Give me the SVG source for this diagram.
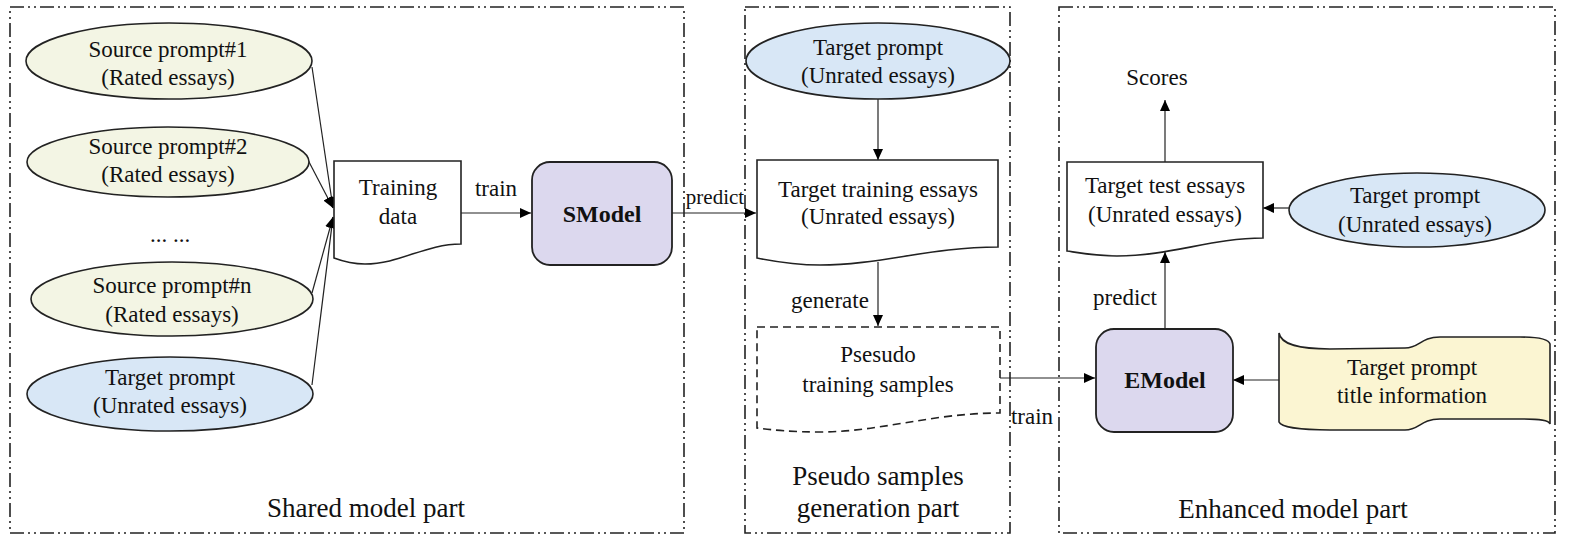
<svg xmlns="http://www.w3.org/2000/svg" width="1577" height="544" viewBox="0 0 1577 544" font-family="Liberation Serif, serif">
<defs>
<marker id="ah" markerUnits="userSpaceOnUse" markerWidth="12" markerHeight="10" refX="11" refY="5" orient="auto">
<path d="M0,0 L11,5 L0,10 Z" fill="#000"/>
</marker>
<style>
.frame{fill:none;stroke:#222;stroke-width:1.6;stroke-dasharray:14 4 2 4 2 4}
.t{font-family:Liberation Serif,serif;font-size:23px;fill:#111;text-anchor:middle}
.big{font-size:27px}
.b{font-weight:bold;font-size:24px}
.src{fill:#f3f5e4;stroke:#222;stroke-width:1.6}
.tgt{fill:#d8e7f6;stroke:#222;stroke-width:1.6}
.doc{fill:#fff;stroke:#222;stroke-width:1.6}
.model{fill:#dcd8ee;stroke:#222;stroke-width:1.8}
.edge{fill:none;stroke:#222;stroke-width:1.2;marker-end:url(#ah)}
</style>
</defs>
<rect width="1577" height="544" fill="#fff"/>
<g id="frames">
<rect class="frame" x="10" y="7" width="674" height="526"/>
<rect class="frame" x="745" y="7" width="265" height="526"/>
<rect class="frame" x="1059" y="7" width="496" height="526"/>
<text class="t big" x="366" y="517">Shared model part</text>
<text class="t big" x="878" y="485">Pseudo samples</text>
<text class="t big" x="878" y="517">generation part</text>
<text class="t big" x="1293" y="518">Enhanced model part</text>
</g>
<g id="connectors">
<line class="edge" x1="312" y1="67" x2="333" y2="208"/>
<line class="edge" x1="308" y1="160" x2="333" y2="208"/>
<line class="edge" x1="312" y1="293" x2="333" y2="217"/>
<line class="edge" x1="312" y1="385" x2="333" y2="217"/>
<line class="edge" x1="461" y1="213" x2="531" y2="213"/>
<text class="t" x="496" y="196">train</text>
<line class="edge" x1="672" y1="213" x2="756" y2="213"/>
<text class="t" x="715" y="204" style="font-size:21px">predict</text>
<line class="edge" x1="878" y1="99" x2="878" y2="160"/>
<line class="edge" x1="878" y1="262" x2="878" y2="326"/>
<text class="t" x="830" y="308">generate</text>
<line class="edge" x1="1000" y1="378" x2="1095" y2="378"/>
<text class="t" x="1032" y="424">train</text>
<line class="edge" x1="1165" y1="162" x2="1165" y2="100"/>
<line class="edge" x1="1289" y1="208" x2="1263" y2="208"/>
<line class="edge" x1="1165" y1="329" x2="1165" y2="252"/>
<text class="t" x="1125" y="305">predict</text>
<line class="edge" x1="1279" y1="380" x2="1233" y2="380"/>
</g>
<g id="src1">
<ellipse class="src" cx="169" cy="61" rx="143" ry="38"/>
<text class="t" x="168" y="57">Source prompt#1</text>
<text class="t" x="168" y="85">(Rated essays)</text>
</g>
<g id="src2">
<ellipse class="src" cx="168" cy="162" rx="141" ry="35"/>
<text class="t" x="168" y="154">Source prompt#2</text>
<text class="t" x="168" y="182">(Rated essays)</text>
</g>
<g id="dots">
<text class="t" x="170" y="242">... ...</text>
</g>
<g id="srcn">
<ellipse class="src" cx="172" cy="299" rx="141" ry="37"/>
<text class="t" x="172" y="293">Source prompt#n</text>
<text class="t" x="172" y="322">(Rated essays)</text>
</g>
<g id="tgt1">
<ellipse class="tgt" cx="170" cy="394" rx="143" ry="37"/>
<text class="t" x="170" y="385">Target prompt</text>
<text class="t" x="170" y="413">(Unrated essays)</text>
</g>
<g id="trainingdata">
<path class="doc" d="M334,161 H461 V244 C425,244 400,264 365,264 C352,264 342,261 334,258 Z"/>
<text class="t" x="398" y="195">Training</text>
<text class="t" x="398" y="224">data</text>
</g>
<g id="smodel">
<rect class="model" x="532" y="162" width="140" height="103" rx="18"/>
<text class="t b" x="602" y="222">SModel</text>
</g>
<g id="tgt2">
<ellipse class="tgt" cx="878" cy="61" rx="132" ry="38"/>
<text class="t" x="878" y="55">Target prompt</text>
<text class="t" x="878" y="83">(Unrated essays)</text>
</g>
<g id="targettraining">
<path class="doc" d="M757,160 H998 V247 C930,247 880,265 820,265 C792,265 772,261 757,258 Z"/>
<text class="t" x="878" y="197">Target training essays</text>
<text class="t" x="878" y="224">(Unrated essays)</text>
</g>
<g id="pseudo">
<path class="doc" style="stroke-dasharray:8 5" d="M757,327 H1000 V413 C932,413 880,432 820,432 C792,432 772,430 757,428 Z"/>
<text class="t" x="878" y="362">Psesudo</text>
<text class="t" x="878" y="392">training samples</text>
</g>
<g id="scores">
<text class="t" x="1157" y="85">Scores</text>
</g>
<g id="targettest">
<path class="doc" d="M1067,162 H1263 V238 C1212,238 1170,256 1117,256 C1095,256 1080,253 1067,251 Z"/>
<text class="t" x="1165" y="193">Target test essays</text>
<text class="t" x="1165" y="222">(Unrated essays)</text>
</g>
<g id="tgt3">
<ellipse class="tgt" cx="1417" cy="210" rx="128" ry="37"/>
<text class="t" x="1415" y="203">Target prompt</text>
<text class="t" x="1415" y="232">(Unrated essays)</text>
</g>
<g id="emodel">
<rect class="model" x="1096" y="329" width="137" height="103" rx="18"/>
<text class="t b" x="1165" y="388">EModel</text>
</g>
<g id="titleinfo">
<path d="M1279,333 C1281,345 1300,349 1330,349 L1405,348 C1420,348 1420,337 1440,337 L1520,337 C1540,337 1549,340 1550,344 V424 C1549,420 1540,419 1520,419 L1440,419 C1420,419 1420,430 1405,430 L1330,430 C1300,430 1281,427 1279,422 Z" fill="#fbf5d2" stroke="#222" stroke-width="1.6"/>
<text class="t" x="1412" y="375">Target prompt</text>
<text class="t" x="1412" y="403">title information</text>
</g>
</svg>
